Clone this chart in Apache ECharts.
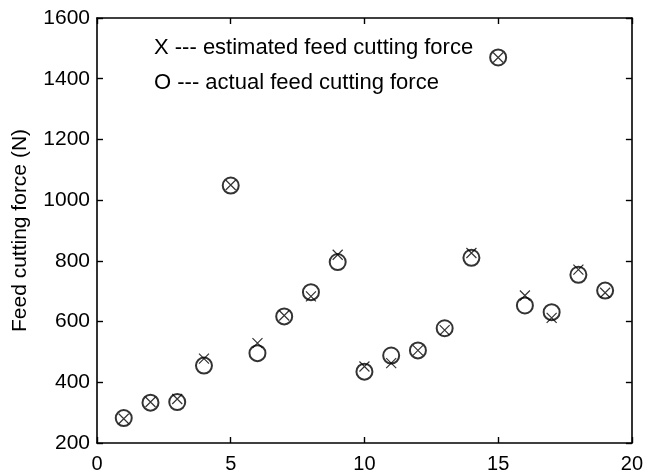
<!DOCTYPE html>
<html><head><meta charset="utf-8">
<script src="https://cdn.jsdelivr.net/npm/echarts@6/dist/echarts.min.js"></script>
<style>html,body{margin:0;padding:0;background:#fff}#c{width:646px;height:474px}</style>
</head><body><div id="c"></div>
<script>
const runs = [1,2,3,4,5,6,7,8,9,10,11,12,13,14,15,16,17,18,19];
const actualForce = [282,333,335,455,1048,496,617,697,796,435,488,505,578,810,1470,653,631,754,702];
const estimatedForce = [280,335,345,478,1050,529,620,683,820,452,463,505,572,826,1470,686,612,771,695];
const xTicks = [0,5,10,15,20];
const yTicks = [200,400,600,800,1000,1200,1400,1600];
const legendLines = ['X --- estimated feed cutting force','O --- actual feed cutting force'];
const yTitle = 'Feed cutting force (N)';

const font = 'Liberation Sans, Arial, sans-serif';
const chart = echarts.init(document.getElementById('c'));
function axisLine(){ return {show:true, onZero:false, lineStyle:{color:'#000', width:1.6}}; }
function tick(){ return {show:true, inside:true, length:6, lineStyle:{color:'#000', width:1.4}}; }
chart.setOption({
  animation:false,
  backgroundColor:'#fff',
  grid:{left:97, right:12, top:18, bottom:31},
  xAxis:[
    {type:'value', min:xTicks[0], max:xTicks[xTicks.length-1], interval:5, axisLine:axisLine(), axisTick:tick(),
     splitLine:{show:false}, axisLabel:{color:'#000', fontSize:20, fontFamily:font, margin:11, formatter:v=>String(v)}},
    {type:'value', position:'top', min:xTicks[0], max:xTicks[xTicks.length-1], interval:5, axisLine:axisLine(), axisTick:tick(),
     splitLine:{show:false}, axisLabel:{show:false}}
  ],
  yAxis:[
    {type:'value', min:yTicks[0], max:yTicks[yTicks.length-1], interval:200, axisLine:axisLine(), axisTick:tick(),
     splitLine:{show:false}, axisLabel:{color:'#000', fontSize:21, fontFamily:font, margin:7, formatter:v=>String(v)},
     name:yTitle, nameLocation:'middle', nameGap:66, nameTextStyle:{color:'#000', fontSize:21, fontFamily:font}},
    {type:'value', position:'right', min:yTicks[0], max:yTicks[yTicks.length-1], interval:200, axisLine:axisLine(), axisTick:tick(),
     splitLine:{show:false}, axisLabel:{show:false}}
  ],
  graphic:[
    {type:'text', left:154, top:37, style:{text:legendLines[0], fill:'#000', font:'22px '+font}},
    {type:'text', left:154, top:72, style:{text:legendLines[1], fill:'#000', font:'22px '+font}}
  ],
  series:[
    {type:'scatter', name:'actual', data:runs.map((r,i)=>[r,actualForce[i]]), symbol:'circle', symbolSize:16,
     itemStyle:{color:'#fff', borderColor:'#000', borderWidth:2}, z:2},
    {type:'scatter', name:'estimated', data:runs.map((r,i)=>[r,estimatedForce[i]]),
     symbol:'path://M0,0L10,10M10,0L0,10', symbolSize:10,
     itemStyle:{color:'none', borderColor:'#000', borderWidth:1.2}, z:3}
  ]
});
</script></body></html>
